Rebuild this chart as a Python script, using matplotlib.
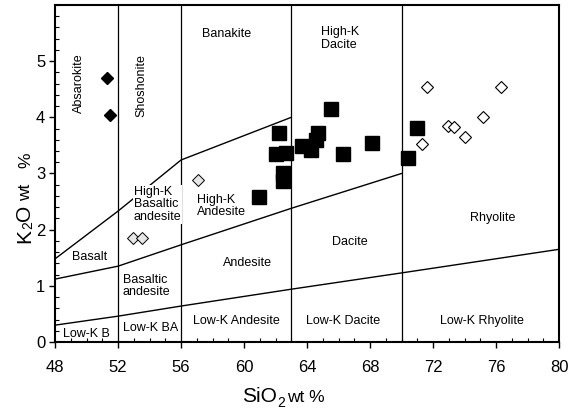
import matplotlib
matplotlib.use("Agg")
import matplotlib.pyplot as plt
from matplotlib.ticker import MultipleLocator

plt.rcParams['font.family'] = ['Liberation Sans', 'DejaVu Sans']

# sample data (SiO2, K2O wt %)
blk_dia_x = [51.3, 51.5]
blk_dia_y = [4.70, 4.04]
gray_dia_x = [52.95, 53.55, 57.1]
gray_dia_y = [1.86, 1.86, 2.88]
open_dia_x = [71.6, 76.3, 75.2, 72.95, 73.35, 74.05, 71.3]
open_dia_y = [4.54, 4.54, 4.00, 3.85, 3.82, 3.65, 3.52]
sq_x = [65.5, 62.2, 62.0, 62.65, 62.5, 62.45, 60.95, 63.7, 64.25, 64.7, 64.55, 66.3, 68.1, 71.0, 70.4]
sq_y = [4.15, 3.72, 3.34, 3.36, 3.00, 2.86, 2.58, 3.49, 3.42, 3.72, 3.60, 3.34, 3.54, 3.81, 3.28]

# field boundaries
shosh_x = [48, 52, 56, 63]
shosh_y = [1.48, 2.33, 3.24, 4.0]
highk_x = [48, 52, 56, 63, 70]
highk_y = [1.12, 1.35, 1.73, 2.38, 3.0]
lowk_x = [48, 52, 56, 63, 70, 80]
lowk_y = [0.30, 0.46, 0.64, 0.94, 1.23, 1.65]
vlines = [52, 56, 63, 70]

W, H = 576, 409
fig = plt.figure(figsize=(W / 100, H / 100), dpi=100)
ax = fig.add_axes([0.0955, 0.1638, 0.875, 0.824])

for v in vlines:
    ax.plot([v, v], [0, 6], color='black', lw=0.9, zorder=1)
ax.plot(shosh_x, shosh_y, color='black', lw=1.0, zorder=1)
ax.plot(highk_x, highk_y, color='black', lw=1.0, zorder=1)
ax.plot(lowk_x, lowk_y, color='black', lw=1.0, zorder=1)

fs = 9
wb = dict(facecolor='white', edgecolor='none', pad=0.5)
ax.text(49.5, 4.6, 'Absarokite', rotation=90, ha='center', va='center', fontsize=fs)
ax.text(53.5, 4.57, 'Shoshonite', rotation=90, ha='center', va='center', fontsize=fs)
ax.text(58.9, 5.48, 'Banakite', ha='center', va='center', fontsize=fs)
ax.text(64.9, 5.4, 'High-K\nDacite', ha='left', va='center', fontsize=fs, linespacing=1.05)
ax.text(53.0, 2.45, 'High-K\nBasaltic\nandesite', ha='left', va='center', fontsize=fs,
        linespacing=1.05, bbox=wb, zorder=2)
ax.text(57.0, 2.42, 'High-K\nAndesite', ha='left', va='center', fontsize=fs, linespacing=1.05)
ax.text(50.2, 1.51, 'Basalt', ha='center', va='center', fontsize=fs)
ax.text(52.3, 1.0, 'Basaltic\nandesite', ha='left', va='center', fontsize=fs, linespacing=1.05)
ax.text(60.2, 1.4, 'Andesite', ha='center', va='center', fontsize=fs)
ax.text(66.7, 1.78, 'Dacite', ha='center', va='center', fontsize=fs)
ax.text(75.8, 2.2, 'Rhyolite', ha='center', va='center', fontsize=fs)
ax.text(50.0, 0.14, 'Low-K B', ha='center', va='center', fontsize=fs)
ax.text(54.05, 0.25, 'Low-K BA', ha='center', va='center', fontsize=fs)
ax.text(59.5, 0.37, 'Low-K Andesite', ha='center', va='center', fontsize=fs)
ax.text(66.3, 0.37, 'Low-K Dacite', ha='center', va='center', fontsize=fs)
ax.text(75.1, 0.37, 'Low-K Rhyolite', ha='center', va='center', fontsize=fs)

ax.plot(blk_dia_x, blk_dia_y, 'D', color='black', ms=6.6, zorder=3)
ax.plot(gray_dia_x, gray_dia_y, 'D', mfc='#e6e6e6', mec='black', mew=0.7, ms=6.4, zorder=3)
ax.plot(open_dia_x, open_dia_y, 'D', mfc='white', mec='black', mew=0.8, ms=6.6, zorder=3)
ax.plot(sq_x, sq_y, 's', color='black', ms=9.5, zorder=4)

ax.set_xlim(48, 80)
ax.set_ylim(0, 6)
ax.set_xticks(range(48, 81, 4))
ax.set_yticks(range(0, 6))
ax.xaxis.set_minor_locator(MultipleLocator(1))
ax.yaxis.set_minor_locator(MultipleLocator(0.2))
ax.tick_params(which='major', direction='out', length=4, width=1, labelsize=12)
ax.tick_params(axis='x', which='major', pad=9)
ax.tick_params(axis='y', which='major', pad=3)
ax.tick_params(which='minor', direction='in', length=3, width=0.8)
for s in ax.spines.values():
    s.set_linewidth(1.5)

# axis titles built piece by piece (big formula, small subscript, smaller "wt %")
rend = fig.canvas.get_renderer()


def title_run(pieces, start, base, rot):
    pos = start
    for txt, size, drop, gap in pieces:
        if rot:
            t = fig.text((base + drop) / W, 1 - pos / H, txt, fontsize=size, rotation=90,
                         rotation_mode='anchor', ha='left', va='baseline')
            pos -= t.get_window_extent(renderer=rend).height + gap
        else:
            t = fig.text(pos / W, 1 - (base + drop) / H, txt, fontsize=size,
                         ha='left', va='baseline')
            pos += t.get_window_extent(renderer=rend).width + gap


title_run([('SiO', 15, 0, 0), ('2', 10, 5, 2), ('wt %', 12.5, 0, 0)], 242, 402, False)
title_run([('K', 15, 0, 0), ('2', 10, 2.5, 0), ('O', 15, 0, 4), ('wt', 12.5, 0, 16),
           ('%', 12.5, 0, 0)], 243, 30, True)

fig.savefig('out.png', dpi=100)
